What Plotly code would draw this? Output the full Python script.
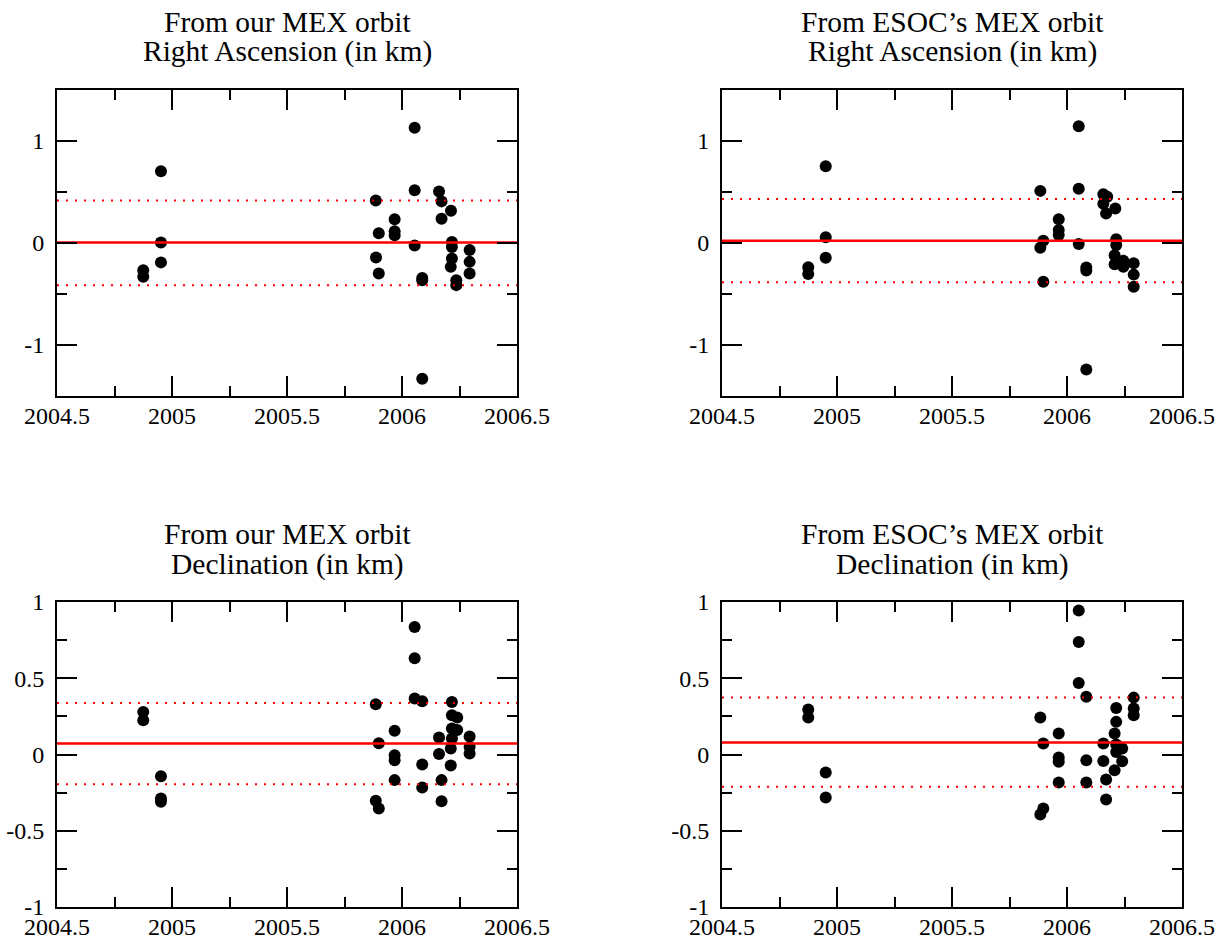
import plotly.graph_objects as go

# ---------------- data ----------------
# Panel 1: our MEX orbit, Right Ascension
ra_our_x = [2004.875, 2004.875, 2004.952, 2004.952, 2004.952,
            2005.886, 2005.887, 2005.899, 2005.899,
            2005.968, 2005.968, 2005.968,
            2006.055, 2006.055, 2006.055,
            2006.088, 2006.088, 2006.088,
            2006.161, 2006.172, 2006.172,
            2006.213, 2006.217, 2006.217, 2006.217, 2006.212,
            2006.236, 2006.236,
            2006.294, 2006.294, 2006.294]
ra_our_y = [-0.267, -0.332, 0.704, 0.004, -0.19,
            0.417, -0.143, 0.095, -0.30,
            0.232, 0.114, 0.075,
            1.131, 0.518, -0.025,
            -0.342, -0.365, -1.332,
            0.505, 0.408, 0.238,
            0.317, 0.01, -0.04, -0.153, -0.234,
            -0.365, -0.413,
            -0.068, -0.185, -0.30]
ra_our_stats = [0.005, 0.417, -0.413]   # mean, mean+sigma, mean-sigma

# Panel 2: ESOC's MEX orbit, Right Ascension
ra_esoc_x = [2004.875, 2004.875, 2004.951, 2004.951, 2004.951,
             2005.884, 2005.897, 2005.884, 2005.897,
             2005.964, 2005.964, 2005.964,
             2006.051, 2006.051, 2006.051,
             2006.084, 2006.084, 2006.084,
             2006.158, 2006.175, 2006.158, 2006.17,
             2006.21, 2006.214, 2006.214, 2006.207, 2006.207,
             2006.245, 2006.245,
             2006.29, 2006.29, 2006.29]
ra_esoc_y = [-0.238, -0.303, 0.753, 0.056, -0.144,
             0.511, 0.022, -0.046, -0.38,
             0.232, 0.127, 0.078,
             1.144, 0.531, -0.01,
             -0.24, -0.27, -1.24,
             0.479, 0.453, 0.384, 0.29,
             0.339, 0.036, -0.02, -0.12, -0.208,
             -0.173, -0.232,
             -0.199, -0.31, -0.43]
ra_esoc_stats = [0.022, 0.432, -0.386]

# Panel 3: our MEX orbit, Declination
dec_our_x = [2004.875, 2004.875, 2004.952, 2004.952, 2004.952,
             2005.886, 2005.886, 2005.899, 2005.899,
             2005.968, 2005.968, 2005.968, 2005.968,
             2006.055, 2006.055, 2006.055,
             2006.088, 2006.088, 2006.088,
             2006.161, 2006.161, 2006.172, 2006.172,
             2006.217, 2006.217, 2006.24, 2006.217, 2006.24, 2006.217,
             2006.212, 2006.212,
             2006.294, 2006.294, 2006.294]
dec_our_y = [0.279, 0.225, -0.142, -0.288, -0.31,
             0.33, -0.304, 0.074, -0.354,
             0.155, -0.005, -0.037, -0.168,
             0.836, 0.631, 0.367,
             0.349, -0.066, -0.216,
             0.111, 0.004, -0.168, -0.306,
             0.345, 0.258, 0.242, 0.17, 0.16, 0.105,
             0.039, -0.072,
             0.118, 0.05, 0.007]
dec_our_stats = [0.072, 0.338, -0.195]

# Panel 4: ESOC's MEX orbit, Declination
dec_esoc_x = [2004.875, 2004.875, 2004.951, 2004.951,
              2005.884, 2005.897, 2005.884, 2005.897,
              2005.964, 2005.964, 2005.964, 2005.964,
              2006.051, 2006.051, 2006.051,
              2006.084, 2006.084, 2006.084,
              2006.158, 2006.158, 2006.17, 2006.17,
              2006.214, 2006.214, 2006.207, 2006.214, 2006.214,
              2006.24, 2006.24, 2006.207,
              2006.29, 2006.29, 2006.29]
dec_esoc_y = [0.295, 0.242, -0.118, -0.282,
              0.242, 0.072, -0.393, -0.354,
              0.138, -0.02, -0.048, -0.184,
              0.944, 0.738, 0.469,
              0.378, -0.037, -0.184,
              0.072, -0.042, -0.164, -0.295,
              0.305, 0.214, 0.138, 0.066, 0.017,
              0.039, -0.044, -0.103,
              0.373, 0.301, 0.258]
dec_esoc_stats = [0.079, 0.373, -0.212]

x_range = [2004.5, 2006.5]
x_ticks = [2004.5, 2005, 2005.5, 2006, 2006.5]
x_ticktext = ["2004.5", "2005", "2005.5", "2006", "2006.5"]
ra_yticks = [-1, 0, 1]
ra_yticktext = ["-1", "0", "1"]
dec_yticks = [-1, -0.5, 0, 0.5, 1]
dec_yticktext = ["-1", "-0.5", "0", "0.5", "1"]

title_line1 = ["From our MEX orbit", "From ESOC\u2019s MEX orbit",
               "From our MEX orbit", "From ESOC\u2019s MEX orbit"]
title_line2 = ["Right Ascension (in km)", "Right Ascension (in km)",
               "Declination (in km)", "Declination (in km)"]

# ---------------- figure ----------------
W, H = 1225, 940
FONT = "Liberation Serif, Times New Roman, serif"

panels = [
    (ra_our_x, ra_our_y, ra_our_stats),
    (ra_esoc_x, ra_esoc_y, ra_esoc_stats),
    (dec_our_x, dec_our_y, dec_our_stats),
    (dec_esoc_x, dec_esoc_y, dec_esoc_stats),
]

# pixel boxes (left, right, top, bottom)
boxes = [(57, 517, 90, 396), (722, 1182, 90, 396),
         (57, 517, 602, 907), (722, 1182, 602, 907)]

fig = go.Figure()
layout = {}
for i, ((xs, ys, st), (l, r, t, b)) in enumerate(zip(panels, boxes)):
    k = "" if i == 0 else str(i + 1)
    xa, ya = "x" + k, "y" + k
    fig.add_trace(go.Scatter(x=xs, y=ys, mode="markers", xaxis=xa, yaxis=ya,
                             marker=dict(color="black", size=12),
                             showlegend=False, hoverinfo="x+y"))
    fig.add_trace(go.Scatter(x=x_range, y=[st[0], st[0]], mode="lines",
                             xaxis=xa, yaxis=ya,
                             line=dict(color="red", width=2.5),
                             showlegend=False, hoverinfo="skip"))
    for v in st[1:]:
        fig.add_trace(go.Scatter(x=x_range, y=[v, v], mode="lines",
                                 xaxis=xa, yaxis=ya,
                                 line=dict(color="red", width=2, dash="2px,7px"),
                                 showlegend=False, hoverinfo="skip"))
    common = dict(showline=True, linecolor="black", linewidth=2, mirror="ticks",
                  ticks="inside", ticklen=20, tickwidth=1.5, tickcolor="black",
                  showgrid=False, zeroline=False, automargin=False,
                  tickfont=dict(family=FONT, size=24, color="black"))
    layout["xaxis" + k] = dict(
        domain=[l / W, r / W], range=x_range, anchor=ya,
        tickmode="array", tickvals=x_ticks, ticktext=x_ticktext,
        minor=dict(ticks="inside", ticklen=10, tickwidth=1.5, tickcolor="black",
                   dtick=0.25, tick0=2004.5, showgrid=False),
        ticklabelstandoff=-3, **common)
    if i < 2:
        yr, yv, yt, md = [-1.5, 1.5], ra_yticks, ra_yticktext, 0.5
    else:
        yr, yv, yt, md = [-1, 1], dec_yticks, dec_yticktext, 0.25
    layout["yaxis" + k] = dict(
        domain=[1 - b / H, 1 - t / H], range=yr, anchor=xa,
        tickmode="array", tickvals=yv, ticktext=yt,
        minor=dict(ticks="inside", ticklen=10, tickwidth=1.5, tickcolor="black",
                   dtick=md, tick0=0, showgrid=False),
        ticklabelstandoff=6, **common)

annotations = []
for i, (l, r, t, b) in enumerate(boxes):
    for txt, off in ((title_line1[i], 68), (title_line2[i], 38)):
        annotations.append(dict(text=txt, xref="paper", yref="paper",
                                x=(l + r) / 2 / W, y=1 - (t - off) / H,
                                xanchor="center", yanchor="middle", showarrow=False,
                                font=dict(family=FONT, size=29.5, color="black")))

fig.update_layout(width=W, height=H, margin=dict(l=0, r=0, t=0, b=0),
                  paper_bgcolor="white", plot_bgcolor="white",
                  font=dict(family=FONT, color="black"),
                  template="none", annotations=annotations, **layout)

fig.write_html("out.html")
